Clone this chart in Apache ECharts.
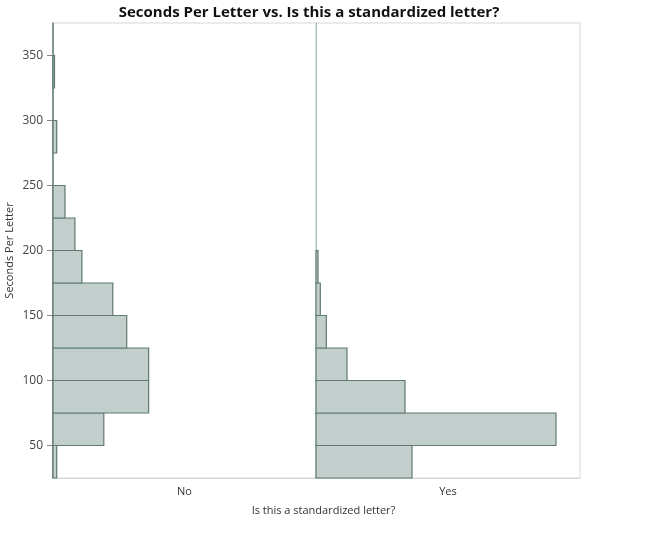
<!DOCTYPE html>
<html>
<head>
<meta charset="utf-8">
<script src="https://cdn.jsdelivr.net/npm/echarts@6/dist/echarts.min.js"></script>
<style>html,body{margin:0;padding:0;background:#fff;}#c{width:647px;height:545px;}</style>
</head>
<body>
<div id="c"></div>
<script>
// Histogram bins (seconds per letter), width 25
const binStarts = [25, 50, 75, 100, 125, 150, 175, 200, 225, 250, 275, 300, 325, 350];
const binWidth = 25;
const groups = ["No", "Yes"];
// Relative counts (bar lengths)
const countsNo  = [3.7, 51, 96, 96, 74, 60, 29, 22, 12, 0, 3.7, 0, 1.5, 0];
const countsYes = [96, 240, 89, 31, 10.3, 4.3, 2, 0, 0, 0, 0, 0, 0, 0];
const yTicks = [50, 100, 150, 200, 250, 300, 350];
const yMin = 25, yMax = 375;
const countMax = 264;

const FONT = '"Open Sans", "Noto Sans", sans-serif';

function makeData(counts) {
  return binStarts.map((s, i) => [s, s + binWidth, counts[i]]).filter(d => d[2] > 0);
}
function renderItem(params, api) {
  const p0 = api.coord([0, api.value(1)]);
  const p1 = api.coord([api.value(2), api.value(0)]);
  return {
    type: 'rect',
    shape: { x: p0[0], y: p0[1], width: p1[0] - p0[0], height: p1[1] - p0[1] },
    style: { fill: '#c3cfcc', stroke: '#5f7a73', lineWidth: 1.2 }
  };
}

const chart = echarts.init(document.getElementById('c'), null, { renderer: 'canvas' });
const grids = [
  { left: 53, top: 23, width: 263, height: 455, show: true, borderColor: '#d3d9d8', borderWidth: 1, backgroundColor: 'transparent' },
  { left: 316, top: 23, width: 264, height: 455, show: true, borderColor: '#d3d9d8', borderWidth: 1, backgroundColor: 'transparent' }
];
const xAxes = groups.map((g, i) => ({
  type: 'value', gridIndex: i, min: 0, max: countMax,
  name: g, nameLocation: 'middle', nameGap: 8,
  nameTextStyle: { fontFamily: FONT, fontSize: 11, color: '#333' },
  axisLine: { show: true, lineStyle: { color: '#d3d9d8' } },
  axisTick: { show: false }, axisLabel: { show: false }, splitLine: { show: false }
}));
const yAxes = [
  {
    type: 'value', gridIndex: 0, min: yMin, max: yMax,
    axisLine: { show: true, lineStyle: { color: '#5f7a73', width: 1.5 } },
    axisTick: { show: true, length: 6, lineStyle: { color: '#888' }, customValues: yTicks },
    axisLabel: { fontFamily: FONT, fontSize: 12, color: '#444', margin: 10, customValues: yTicks },
    splitLine: { show: false },
    name: 'Seconds Per Letter', nameLocation: 'middle', nameGap: 38,
    nameTextStyle: { fontFamily: FONT, fontSize: 11, color: '#333' }
  },
  {
    type: 'value', gridIndex: 1, min: yMin, max: yMax,
    axisLine: { show: true, lineStyle: { color: '#b0bcba' } },
    axisTick: { show: false }, axisLabel: { show: false }, splitLine: { show: false }
  }
];
chart.setOption({
  animation: false,
  title: {
    text: 'Seconds Per Letter vs. Is this a standardized letter?',
    left: 304, textAlign: 'center', top: 0,
    textStyle: { fontFamily: FONT, fontSize: 15, fontWeight: 'bold', color: '#111' }
  },
  graphic: [{
    type: 'text', left: 'center', top: 505, x: 0,
    style: { text: 'Is this a standardized letter?', fontFamily: FONT, fontSize: 11, fill: '#333' }
  }],
  grid: grids,
  xAxis: xAxes,
  yAxis: yAxes,
  series: [
    { type: 'custom', xAxisIndex: 0, yAxisIndex: 0, renderItem: renderItem,
      encode: { x: 2, y: [0, 1] }, data: makeData(countsNo) },
    { type: 'custom', xAxisIndex: 1, yAxisIndex: 1, renderItem: renderItem,
      encode: { x: 2, y: [0, 1] }, data: makeData(countsYes) }
  ]
});
</script>
</body>
</html>
